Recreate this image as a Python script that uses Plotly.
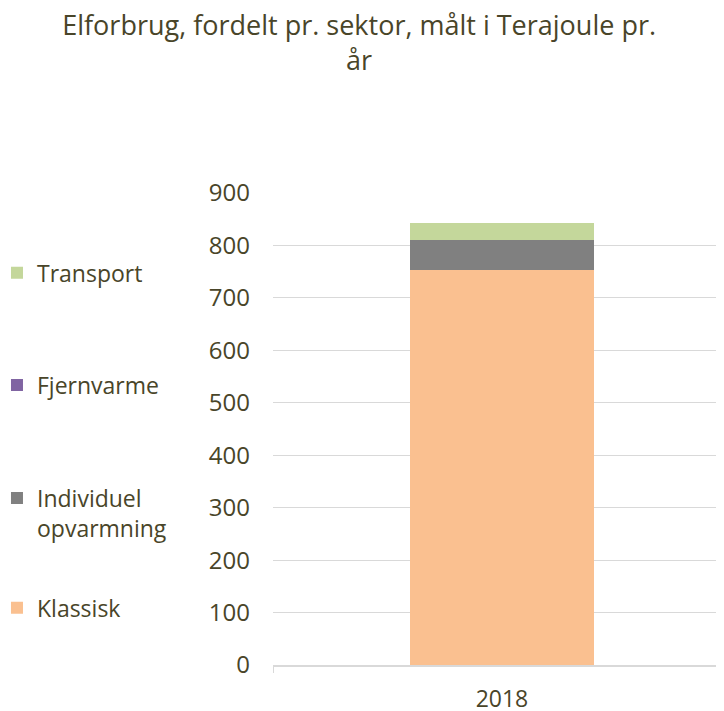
import plotly.graph_objects as go

# Data (Terajoule per year)
years = ["2018"]
klassisk = [753]
individuel = [57]
fjernvarme = [0]
transport = [33]

sectors = [
    ("Klassisk", klassisk, "#fac090", "legend4", 0.121),
    ("Individuel<br>opvarmning", individuel, "#808080", "legend3", 0.322),
    ("Fjernvarme", fjernvarme, "#8064a2", "legend2", 0.593),
    ("Transport", transport, "#c4d79b", "legend", 0.831),
]

text_color = "#494529"
font_family = "Open Sans, Segoe UI, sans-serif"

fig = go.Figure()

for name, values, color, legend_id, _ in sectors:
    fig.add_trace(go.Bar(
        x=years,
        y=values,
        name=name,
        marker=dict(color=color, line=dict(width=0)),
        width=0.40,
        legend=legend_id,
    ))

legend_style = dict(
    x=-0.612,
    xanchor="left",
    yanchor="middle",
    bgcolor="rgba(0,0,0,0)",
    font=dict(family=font_family, size=23, color=text_color),
    valign="top",
)

layout_legends = {}
for name, values, color, legend_id, ypos in sectors:
    layout_legends[legend_id] = dict(legend_style, y=ypos)

# the page body adds an 8px margin, so the figure is shifted 8px down/right
fig.update_layout(
    title=dict(
        text="Elforbrug, fordelt pr. sektor, målt i Terajoule pr.<br>år",
        x=0.485,
        xanchor="center",
        y=0.962,
        yanchor="top",
        font=dict(family=font_family, size=27, color=text_color),
    ),
    barmode="stack",
    width=724,
    height=703,
    margin=dict(l=265, r=8, t=185, b=46, autoexpand=False),
    plot_bgcolor="white",
    paper_bgcolor="white",
    showlegend=True,
    **layout_legends,
)

fig.update_xaxes(
    type="category",
    range=[-0.5, 0.485],
    showgrid=False,
    showline=True,
    linecolor="#d9d9d9",
    linewidth=2,
    ticks="outside",
    tickson="boundaries",
    ticklen=6,
    tickcolor="#d9d9d9",
    tickfont=dict(family=font_family, size=23, color=text_color),
    ticklabelstandoff=12,
)

fig.update_yaxes(
    range=[0, 900],
    dtick=100,
    showgrid=True,
    gridcolor="#d9d9d9",
    gridwidth=1,
    zeroline=False,
    showline=False,
    tickfont=dict(family=font_family, size=24, color=text_color),
    ticklabelstandoff=22,
)

fig.write_html("out.html")
